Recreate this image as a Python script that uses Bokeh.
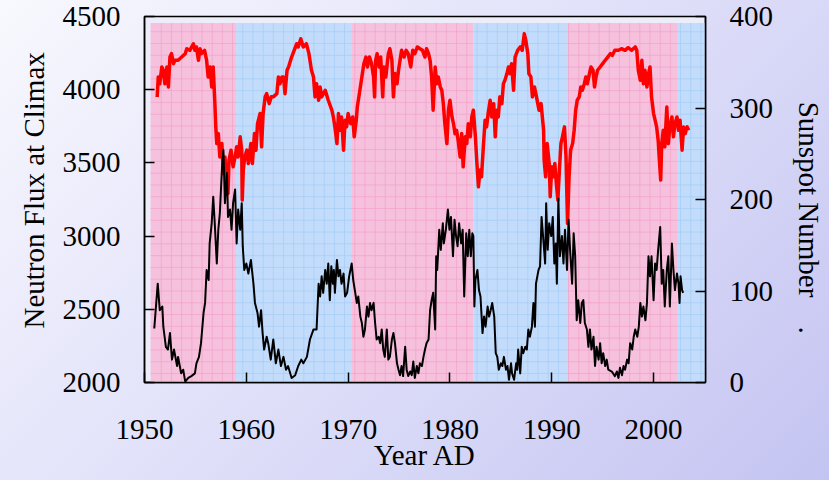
import numpy as np
from bokeh.plotting import figure
from bokeh.models import Range1d, LinearAxis, FixedTicker, Title
from bokeh.embed import file_html
from bokeh.resources import INLINE

# ---------------- data (in the chart's axis units) ----------------
sunspot_year = [1950.96, 1951.3, 1951.5, 1951.75, 1951.85, 1952.1, 1952.3, 1952.5, 1952.7, 1952.9,
    1953.2, 1953.3, 1953.6, 1953.8, 1954.0, 1954.3, 1954.6, 1954.95, 1955.1, 1955.35,
    1955.55, 1955.8, 1955.95, 1956.1, 1956.3, 1956.4, 1956.6, 1956.75, 1956.9, 1957.1,
    1957.25, 1957.4, 1957.6, 1957.75, 1957.9, 1958.1, 1958.2, 1958.4, 1958.55, 1958.7,
    1958.9, 1959.05, 1959.2, 1959.4, 1959.55, 1959.65, 1959.8, 1960.0, 1960.2, 1960.45,
    1960.7, 1960.85, 1961.1, 1961.25, 1961.45, 1961.6, 1961.75, 1962.0, 1962.15, 1962.4,
    1962.65, 1962.9, 1963.15, 1963.4, 1963.65, 1963.9, 1964.1, 1964.45, 1964.8, 1965.1,
    1965.4, 1965.6, 1965.95, 1966.25, 1966.6, 1966.9, 1967.1, 1967.25, 1967.4, 1967.55,
    1967.75, 1967.9, 1968.05, 1968.2, 1968.35, 1968.5, 1968.6, 1968.7, 1968.9, 1969.05,
    1969.2, 1969.35, 1969.55, 1969.7, 1969.9, 1970.1, 1970.35, 1970.5, 1970.7, 1970.85,
    1971.0, 1971.2, 1971.35, 1971.5, 1971.65, 1971.85, 1972.0, 1972.15, 1972.3, 1972.5,
    1972.65, 1972.8, 1973.0, 1973.15, 1973.3, 1973.45, 1973.6, 1973.8, 1973.95, 1974.1,
    1974.3, 1974.45, 1974.6, 1974.8, 1974.95, 1975.1, 1975.25, 1975.4, 1975.6, 1975.75,
    1975.9, 1976.1, 1976.25, 1976.4, 1976.55, 1976.75, 1976.9, 1977.05, 1977.25, 1977.4,
    1977.55, 1977.7, 1977.9, 1978.05, 1978.2, 1978.35, 1978.55, 1978.65, 1978.75, 1978.95,
    1979.1, 1979.3, 1979.4, 1979.6, 1979.8, 1979.95, 1980.1, 1980.3, 1980.45, 1980.6,
    1980.75, 1980.9, 1981.1, 1981.25, 1981.4, 1981.6, 1981.75, 1981.9, 1982.05, 1982.2,
    1982.3, 1982.4, 1982.5, 1982.7, 1982.85, 1983.0, 1983.2, 1983.35, 1983.5, 1983.7,
    1983.85, 1984.0, 1984.15, 1984.35, 1984.5, 1984.65, 1984.8, 1985.0, 1985.15, 1985.3,
    1985.5, 1985.65, 1985.8, 1986.0, 1986.1, 1986.3, 1986.5, 1986.6, 1986.7, 1986.9,
    1987.05, 1987.2, 1987.4, 1987.55, 1987.7, 1987.85, 1988.05, 1988.2, 1988.35, 1988.45,
    1988.7, 1988.85, 1989.0, 1989.2, 1989.35, 1989.45, 1989.6, 1989.75, 1989.95, 1990.1,
    1990.25, 1990.4, 1990.5, 1990.65, 1990.8, 1991.0, 1991.15, 1991.3, 1991.5, 1991.65,
    1991.8, 1992.0, 1992.15, 1992.3, 1992.45, 1992.6, 1992.8, 1992.95, 1993.1, 1993.25,
    1993.45, 1993.6, 1993.75, 1993.9, 1994.1, 1994.25, 1994.4, 1994.6, 1994.75, 1994.9,
    1995.05, 1995.25, 1995.4, 1995.55, 1995.9, 1996.2, 1996.4, 1996.55, 1996.7, 1996.9,
    1997.05, 1997.2, 1997.4, 1997.55, 1997.7, 1997.9, 1998.05, 1998.2, 1998.4, 1998.55,
    1998.7, 1998.85, 1999.0, 1999.2, 1999.35, 1999.5, 1999.65, 1999.8, 2000.0, 2000.15,
    2000.3, 2000.45, 2000.65, 2000.8, 2000.95, 2001.1, 2001.3, 2001.45, 2001.6, 2001.8,
    2001.95, 2002.1, 2002.3, 2002.45, 2002.55, 2002.65, 2002.8, 2002.9]
sunspot_number = [59, 108, 79, 83, 61, 39, 36, 54, 25, 36,
    18, 28, 10, 14, 1, 5, 7, 10, 21, 28,
    43, 76, 87, 123, 112, 152, 174, 203, 174, 130,
    167, 185, 232, 254, 196, 229, 181, 189, 167, 196,
    211, 152, 189, 167, 196, 149, 123, 130, 119, 134,
    108, 87, 76, 61, 79, 54, 36, 50, 43, 25,
    47, 21, 36, 18, 28, 14, 18, 5, 8, 18,
    25, 21, 28, 47, 58, 58, 108, 94, 116, 98,
    123, 108, 130, 90, 127, 108, 123, 98, 134, 116,
    123, 108, 119, 94, 98, 116, 130, 112, 98, 87,
    94, 72, 65, 50, 58, 83, 72, 87, 79, 87,
    65, 47, 50, 43, 58, 36, 28, 58, 25, 28,
    47, 54, 43, 21, 14, 8, 18, 7, 39, 14,
    7, 12, 8, 23, 5, 18, 10, 21, 18, 28,
    36, 43, 47, 79, 90, 98, 58, 138, 123, 167,
    145, 174, 152, 167, 189, 167, 181, 138, 178, 160,
    149, 174, 152, 167, 94, 163, 138, 167, 138, 163,
    160, 83, 112, 123, 101, 94, 54, 72, 61, 83,
    72, 79, 87, 72, 32, 28, 14, 21, 18, 28,
    14, 18, 3, 21, 10, 3, 21, 14, 36, 10,
    39, 32, 39, 36, 58, 50, 61, 87, 61, 108,
    123, 127, 181, 152, 130, 196, 145, 174, 160, 181,
    130, 152, 108, 201, 138, 160, 130, 167, 123, 178,
    145, 108, 163, 138, 68, 90, 65, 87, 90, 65,
    58, 39, 58, 36, 50, 18, 39, 25, 43, 21,
    32, 18, 25, 14, 12, 7, 12, 5, 16, 8,
    18, 14, 25, 21, 43, 36, 50, 58, 50, 61,
    87, 72, 83, 68, 87, 138, 116, 138, 90, 130,
    123, 145, 170, 108, 123, 83, 123, 138, 83, 152,
    123, 101, 119, 108, 87, 116, 101, 98]

flux_year = [1951.25, 1951.35, 1951.5, 1951.7, 1951.85, 1952.0, 1952.2, 1952.35, 1952.5, 1952.65,
    1952.85, 1953.0, 1953.3, 1953.65, 1954.0, 1954.15, 1954.45, 1954.8, 1954.95, 1955.1,
    1955.3, 1955.45, 1955.6, 1955.9, 1956.1, 1956.25, 1956.45, 1956.6, 1956.75, 1956.9,
    1957.0, 1957.1, 1957.25, 1957.4, 1957.6, 1957.75, 1957.9, 1958.1, 1958.2, 1958.3,
    1958.5, 1958.7, 1958.9, 1959.05, 1959.2, 1959.4, 1959.55, 1959.6, 1959.7, 1959.85,
    1960.05, 1960.2, 1960.45, 1960.6, 1960.8, 1960.95, 1961.1, 1961.35, 1961.5, 1961.65,
    1961.85, 1962.0, 1962.25, 1962.45, 1962.65, 1963.0, 1963.15, 1963.3, 1963.5, 1963.65,
    1963.8, 1964.0, 1964.15, 1964.45, 1964.7, 1964.95, 1965.1, 1965.35, 1965.6, 1965.9,
    1966.15, 1966.4, 1966.6, 1966.75, 1966.9, 1967.1, 1967.25, 1967.4, 1967.75, 1968.05,
    1968.4, 1968.55, 1968.7, 1968.9, 1969.05, 1969.2, 1969.35, 1969.55, 1969.7, 1969.85,
    1970.0, 1970.25, 1970.45, 1970.6, 1970.8, 1970.9, 1971.1, 1971.25, 1971.45, 1971.55,
    1971.75, 1971.9, 1972.1, 1972.3, 1972.5, 1972.6, 1972.7, 1972.85, 1973.05, 1973.2,
    1973.4, 1973.5, 1973.7, 1973.95, 1974.1, 1974.3, 1974.45, 1974.6, 1974.8, 1974.95,
    1975.1, 1975.25, 1975.5, 1975.7, 1975.9, 1976.15, 1976.35, 1976.55, 1976.8, 1977.05,
    1977.3, 1977.55, 1977.7, 1977.9, 1978.05, 1978.2, 1978.35, 1978.55, 1978.7, 1978.85,
    1979.05, 1979.2, 1979.35, 1979.5, 1979.7, 1979.85, 1980.0, 1980.2, 1980.35, 1980.5,
    1980.65, 1980.8, 1981.0, 1981.15, 1981.3, 1981.5, 1981.65, 1981.8, 1982.0, 1982.15,
    1982.3, 1982.5, 1982.65, 1982.8, 1982.95, 1983.1, 1983.3, 1983.45, 1983.6, 1983.75,
    1983.95, 1984.1, 1984.3, 1984.45, 1984.6, 1984.75, 1984.9, 1985.1, 1985.25, 1985.4,
    1985.6, 1985.75, 1985.9, 1986.05, 1986.25, 1986.4, 1986.65, 1986.9, 1987.1, 1987.3,
    1987.45, 1987.65, 1987.75, 1987.95, 1988.1, 1988.3, 1988.5, 1988.75, 1988.95, 1989.2,
    1989.25, 1989.4, 1989.55, 1989.75, 1989.85, 1990.0, 1990.15, 1990.3, 1990.45, 1990.6,
    1990.75, 1990.9, 1991.05, 1991.25, 1991.4, 1991.55, 1991.7, 1991.85, 1992.05, 1992.2,
    1992.35, 1992.5, 1992.7, 1992.85, 1993.0, 1993.2, 1993.35, 1993.5, 1993.7, 1993.85,
    1994.05, 1994.2, 1994.35, 1994.5, 1994.75, 1995.0, 1995.25, 1995.5, 1995.75, 1995.95,
    1996.2, 1996.55, 1996.85, 1997.2, 1997.5, 1997.85, 1998.2, 1998.35, 1998.5, 1998.7,
    1998.85, 1999.0, 1999.15, 1999.35, 1999.5, 1999.65, 1999.8, 2000.0, 2000.15, 2000.3,
    2000.45, 2000.55, 2000.7, 2000.8, 2000.95, 2001.1, 2001.3, 2001.45, 2001.6, 2001.8,
    2001.95, 2002.1, 2002.3, 2002.45, 2002.6, 2002.8, 2002.95, 2003.1, 2003.3, 2003.45]
neutron_flux = [3950, 4087, 4041, 4155, 4133, 4041, 4155, 4019, 4223, 4246,
    4178, 4201, 4201, 4223, 4246, 4280, 4269, 4314, 4269, 4292,
    4201, 4280, 4246, 4269, 4201, 4087, 4155, 4019, 4155, 3928,
    3746, 3632, 3700, 3541, 3632, 3427, 3541, 3359, 3291, 3519,
    3587, 3473, 3541, 3610, 3541, 3678, 3587, 3246, 3451, 3541,
    3587, 3496, 3632, 3496, 3700, 3587, 3768, 3837, 3610, 3837,
    3951, 3973, 3905, 3951, 3951, 3973, 4087, 4041, 4087, 4087,
    3973, 4133, 4155, 4223, 4269, 4314, 4292, 4348, 4292, 4314,
    4246, 4133, 4087, 3951, 4041, 3928, 4019, 3951, 3996, 3928,
    3860, 3814, 3746, 3632, 3837, 3723, 3814, 3587, 3792, 3746,
    3837, 3768, 3814, 3678, 3792, 3882, 3973, 4041, 4133, 4178,
    4223, 4155, 4223, 4178, 4087, 3951, 4201, 4246, 4155, 4223,
    3951, 4155, 4087, 4246, 4280, 4201, 3951, 4110, 4041, 4133,
    4201, 4269, 4223, 4269, 4246, 4155, 4269, 4246, 4292, 4280,
    4269, 4223, 4280, 4246, 4201, 4087, 3860, 4155, 4041, 4087,
    4019, 3996, 3905, 3768, 3632, 3860, 3928, 3814, 3768, 3700,
    3723, 3655, 3541, 3700, 3473, 3678, 3632, 3768, 3678, 3814,
    3860, 3678, 3496, 3337, 3451, 3405, 3632, 3792, 3746, 3837,
    3928, 3814, 3905, 3678, 3860, 3814, 3951, 3905, 4041, 4064,
    4110, 4155, 4110, 4178, 3996, 4223, 4269, 4292, 4269, 4383,
    4337, 4246, 4110, 4087, 3951, 4019, 3951, 3860, 3905, 3723,
    3519, 3405, 3632, 3496, 3269, 3473, 3405, 3496, 3359, 3246,
    3451, 3632, 3678, 3746, 3541, 3087, 3405, 3587, 3632, 3723,
    3860, 3928, 3951, 4019, 3996, 4041, 4087, 4041, 4110, 4155,
    4133, 4019, 4087, 4133, 4155, 4178, 4201, 4223, 4246, 4235,
    4269, 4269, 4280, 4269, 4287, 4269, 4292, 4269, 4133, 4064,
    4201, 4041, 4133, 4019, 4110, 4155, 3951, 3837, 3792, 3746,
    3655, 3541, 3383, 3632, 3723, 3610, 3882, 3632, 3746, 3814,
    3678, 3768, 3814, 3723, 3792, 3587, 3746, 3700, 3746, 3723]

# alternating shaded periods (pink / blue) and their edges in years
band_edges = [1950.6, 1959.0, 1970.3, 1982.3, 1991.6, 2002.3, 2005.6]
band_kind = ["pink", "blue", "pink", "blue", "pink", "blue"]
band_top = 4455

x_ticks = [1950, 1960, 1970, 1980, 1990, 2000]
flux_ticks = [2000, 2500, 3000, 3500, 4000, 4500]
sunspot_ticks = [0, 100, 200, 300, 400]

# ---------------- styling ----------------
FONT = "Liberation Serif"
fill_of = {"pink": "#f6c1dd", "blue": "#c3dcfb"}
grid_of = {"pink": "#f3a3cb", "blue": "#a6cdf6"}

p = figure(
    frame_width=561, frame_height=366,
    min_border_left=144, min_border_right=124, min_border_top=16, min_border_bottom=98,
    x_range=Range1d(1950, 2005.1), y_range=Range1d(2000, 4500),
    output_backend="svg", toolbar_location=None,
)
p.extra_y_ranges = {"ss": Range1d(0, 400)}
p.styles = {"background": "linear-gradient(135deg, #f8f8fe 0%, #e2e2fa 45%, #c4c4f2 100%)"}
p.border_fill_alpha = 0
p.background_fill_color = "#ececfa"
p.outline_line_color = "black"
p.outline_line_width = 1.5
p.xgrid.visible = False
p.ygrid.visible = False

# shaded bands
lefts = band_edges[:-1]
rights = band_edges[1:]
p.quad(left=lefts, right=rights, bottom=[1900] * len(lefts), top=[band_top] * len(lefts),
       fill_color=[fill_of[k] for k in band_kind], line_color=None)

# fine grid inside each band
gx = np.arange(1951.65, 2006.0, 1.0)
gy = np.arange(4396.0, 1990.0, -80.5)
sx0, sy0, sx1, sy1, sc = [], [], [], [], []
for l, r, k in zip(lefts, rights, band_kind):
    for x in gx[(gx > l) & (gx < r)]:
        sx0.append(x); sx1.append(x); sy0.append(1900); sy1.append(band_top); sc.append(grid_of[k])
    for y in gy:
        sx0.append(l); sx1.append(r); sy0.append(y); sy1.append(y); sc.append(grid_of[k])
p.segment(x0=sx0, y0=sy0, x1=sx1, y1=sy1, line_color=sc, line_width=1, line_alpha=0.75)

# series
p.line(flux_year, neutron_flux, line_color="#ff0000", line_width=3.5, line_join="round")
p.line(sunspot_year, sunspot_number, line_color="black", line_width=2, y_range_name="ss",
       line_join="round")

# axes
right_axis = LinearAxis(y_range_name="ss")
p.add_layout(right_axis, "right")

for ax in [p.xaxis[0], p.yaxis[0], right_axis]:
    ax.major_tick_in = 10
    ax.major_tick_out = 0
    ax.minor_tick_line_color = None
    ax.major_tick_line_color = "black"
    ax.major_tick_line_width = 1.5
    ax.axis_line_color = "black"
    ax.axis_line_width = 1.5
    ax.major_label_text_font = FONT
    ax.major_label_text_font_size = "29px"
    ax.major_label_text_color = "black"
    ax.axis_label_text_font = FONT
    ax.axis_label_text_font_size = "29px"
    ax.axis_label_text_font_style = "normal"
    ax.axis_label_text_color = "black"

p.xaxis[0].ticker = FixedTicker(ticks=x_ticks)
p.xaxis[0].major_label_standoff = 37
p.xaxis[0].axis_label = "Year AD"
p.xaxis[0].axis_label_standoff = -3

p.yaxis[0].ticker = FixedTicker(ticks=flux_ticks)
p.yaxis[0].major_label_standoff = 24

right_axis.ticker = FixedTicker(ticks=sunspot_ticks)
right_axis.major_label_standoff = 24
right_axis.axis_label = "\u00a0" * 5 + "Sunspot Number" + "\u00a0" * 4 + "."
right_axis.axis_label_standoff = 17

left_title = Title(text="Neutron Flux at Climax", align="left", offset=54, standoff=19,
                   text_font=FONT, text_font_size="29px", text_font_style="normal",
                   text_color="black")
p.add_layout(left_title, "left")

open("out.html", "w").write(file_html(p, INLINE))
